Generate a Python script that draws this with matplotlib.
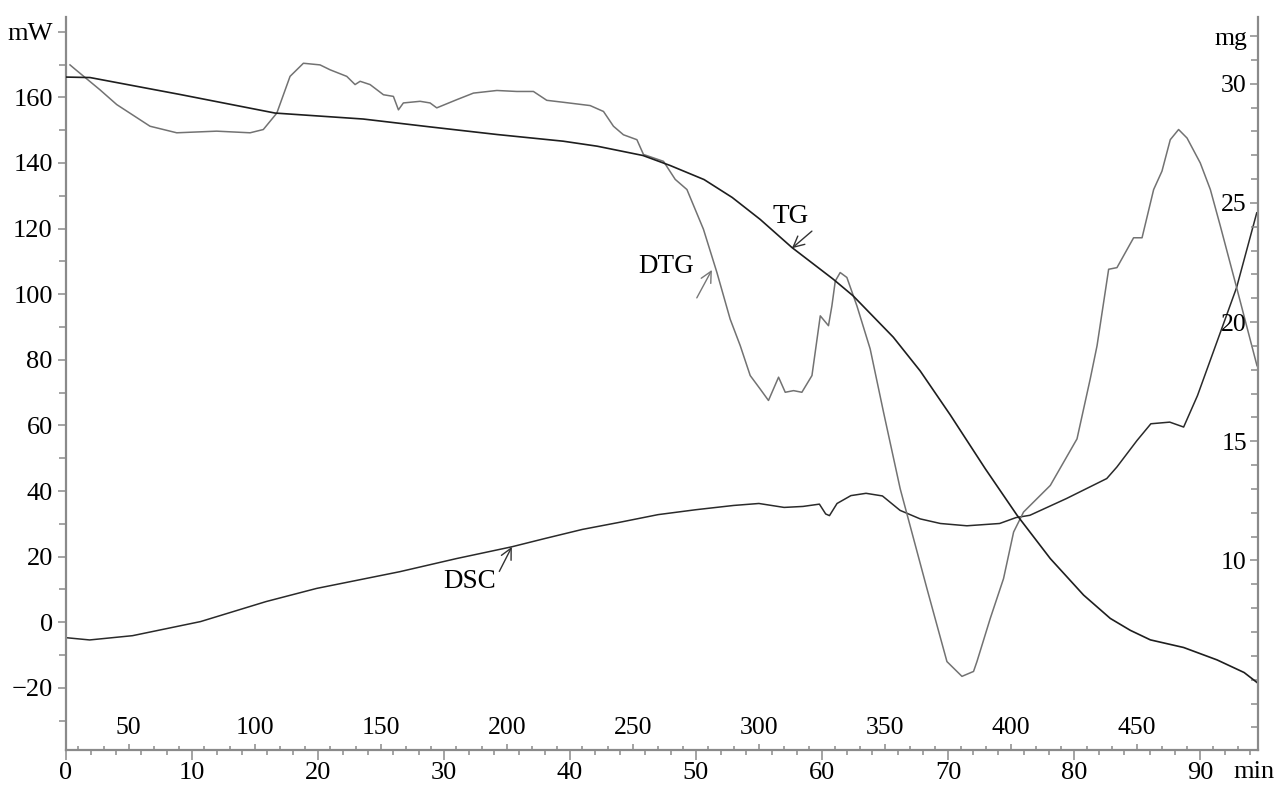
import numpy as np
import matplotlib.pyplot as plt
from matplotlib.ticker import MultipleLocator

plt.rcParams['font.family'] = ['Liberation Serif', 'DejaVu Serif']

# ---- data ----
# TG, mass (mg) against time (min)
tg_time = [0.0, 1.93, 9.07, 16.61, 23.6, 28.91, 34.23, 39.47, 42.17, 45.8, 47.96,
           50.65, 52.88, 55.1, 57.62, 60.9, 62.48, 65.66, 67.8, 70.18, 72.96,
           75.48, 78.12, 80.76, 82.88, 84.47, 86.06, 88.7, 91.35, 93.5, 94.6]
tg_mass = [30.28, 30.26, 29.55, 28.77, 28.52, 28.19, 27.87, 27.59, 27.38, 26.99, 26.57,
           25.98, 25.23, 24.31, 23.13, 21.8, 21.1, 19.37, 17.95, 16.11, 13.85,
           11.9, 10.08, 8.55, 7.57, 7.07, 6.67, 6.35, 5.83, 5.3, 4.85]

# DSC, heat flow (mW)
dsc_time = [0.0, 1.9, 5.3, 10.7, 15.9, 19.9, 26.5, 31.0, 35.4, 38.0, 41.0, 44.0,
            47.0, 50.0, 53.0, 55.0, 57.0, 58.5, 59.8, 60.3, 60.6, 61.2, 62.3,
            63.5, 64.8, 66.2, 67.8, 69.4, 71.5, 74.1, 75.4, 76.5, 79.4, 82.6,
            83.4, 85.0, 86.1, 87.6, 88.7, 89.8, 92.9, 94.5]
dsc_mw = [-4.7, -5.4, -4.1, 0.2, 6.3, 10.3, 15.4, 19.4, 23.0, 25.5, 28.3, 30.5,
          32.8, 34.3, 35.6, 36.2, 35.0, 35.3, 36.0, 33.0, 32.5, 36.2, 38.6,
          39.3, 38.5, 34.1, 31.5, 30.1, 29.4, 30.1, 31.9, 32.6, 37.7, 43.8,
          47.3, 55.4, 60.5, 61.0, 59.5, 69.1, 102.0, 124.8]

# DTG, drawn against the mW scale
dtg_time = [0.34, 0.74, 2.72, 4.05, 6.69, 8.81, 11.98, 14.63, 15.68, 16.75, 17.8,
            18.86, 20.18, 20.98, 22.3, 22.96, 23.36, 24.15, 25.21, 26.0, 26.4,
            26.79, 28.12, 28.91, 29.44, 31.03, 32.35, 34.21, 35.79, 37.11, 38.17,
            39.49, 41.61, 42.67, 43.46, 44.25, 45.32, 45.84, 47.43, 48.36, 49.29,
            50.6, 51.67, 52.72, 53.52, 54.31, 55.1, 55.76, 56.56, 57.09, 57.75,
            58.41, 59.21, 59.87, 60.52, 60.79, 61.06, 61.45, 61.98, 62.78, 63.83,
            64.89, 66.21, 68.33, 69.92, 71.11, 72.03, 72.3, 73.36, 74.41, 75.21,
            76.0, 78.12, 80.24, 81.29, 81.83, 82.75, 83.41, 84.73, 85.4, 86.32,
            86.98, 87.64, 88.3, 88.97, 90.02, 90.82, 91.61, 92.94, 94.52]
dtg_val = [169.9, 168.6, 162.3, 157.8, 151.2, 149.2, 149.7, 149.2, 150.2, 155.2, 166.4,
           170.4, 169.9, 168.4, 166.4, 163.9, 164.9, 163.9, 160.8, 160.3, 156.2,
           158.3, 158.8, 158.3, 156.8, 159.3, 161.3, 162.1, 161.8, 161.8, 159.1,
           158.5, 157.5, 155.7, 151.2, 148.6, 147.1, 142.6, 140.5, 135.0, 131.9,
           119.8, 106.6, 92.4, 84.3, 75.2, 71.1, 67.6, 74.7, 70.1, 70.6,
           70.1, 75.2, 93.4, 90.4, 96.4, 104.0, 106.6, 105.1, 96.4, 83.3,
           64.0, 40.7, 10.3, -12.0, -16.5, -15.0, -12.0, 1.2, 13.3, 27.5,
           33.6, 41.7, 55.9, 74.2, 84.3, 107.6, 108.1, 117.2, 117.2, 131.9,
           137.5, 147.1, 150.2, 147.6, 140.0, 131.9, 120.8, 101.5, 78.2]

mw_ticks = [-20, 0, 20, 40, 60, 80, 100, 120, 140, 160, 180]
mw_labels = ['\u221220', '0', '20', '40', '60', '80', '100', '120', '140', '160', 'mW']
mg_ticks = [10, 15, 20, 25, 30, 32]
mg_labels = ['10', '15', '20', '25', '30', 'mg']
time_ticks = [0, 10, 20, 30, 40, 50, 60, 70, 80, 90]
temp_ticks = [50, 100, 150, 200, 250, 300, 350, 400, 450]

# temperature program: 25 C start, 5 C/min
T0, rate = 25.0, 5.0
t_max = 94.6

spine_c = '#8a8a8a'

fig = plt.figure(figsize=(12.77, 7.91), dpi=100)
ax = fig.add_axes([0.05145, 0.05183, 0.93367, 0.92668])
ax_mg = ax.twinx()
ax_T = ax.twiny()

ax.plot(dsc_time, dsc_mw, color='#2a2a2a', lw=1.1)
ax.plot(dtg_time, dtg_val, color='#727272', lw=1.1)
ax_mg.plot(tg_time, tg_mass, color='#1e1e1e', lw=1.2)

ax.set_xlim(0, t_max)
ax.set_ylim(-38.95, 184.5)
ax_mg.set_ylim(2.05, 32.8)
ax_T.set_xlim(T0 + rate * 0, T0 + rate * t_max)

for a in (ax, ax_mg, ax_T):
    for s in a.spines.values():
        s.set_visible(False)
ax.spines['left'].set_visible(True)
ax.spines['bottom'].set_visible(True)
ax_mg.spines['right'].set_visible(True)
for s in (ax.spines['left'], ax.spines['bottom'], ax_mg.spines['right']):
    s.set_color(spine_c)
    s.set_linewidth(1.6)

# left axis
ax.set_yticks(mw_ticks)
ax.set_yticklabels(mw_labels)
ax.yaxis.set_minor_locator(MultipleLocator(10))
ax.tick_params(axis='y', which='major', length=5.8, width=1.1, color=spine_c,
               pad=3.5, labelsize=19)
ax.tick_params(axis='y', which='minor', length=5.0, width=1.1, color=spine_c)

# time axis, ticks below
ax.set_xticks(time_ticks)
ax.xaxis.set_minor_locator(MultipleLocator(2))
ax.tick_params(axis='x', which='major', length=7, width=1.1, color=spine_c,
               pad=1.5, labelsize=19)
ax.tick_params(axis='x', which='minor', length=3.6, width=1.1, color=spine_c)
ax.annotate('min', xy=(t_max - 0.3, 0), xycoords=('data', 'axes fraction'),
            xytext=(0, -16), textcoords='offset points', ha='center', va='center',
            fontsize=19)

# temperature axis, ticks above the same line
ax_T.spines['top'].set_position(('axes', 0.0))
ax_T.set_xticks(temp_ticks)
ax_T.xaxis.set_minor_locator(MultipleLocator(10))
ax_T.tick_params(axis='x', which='major', direction='out', length=4.5, width=1.1,
                 color=spine_c, pad=3.5, labelsize=18.5)
ax_T.tick_params(axis='x', which='minor', direction='out', length=3.0, width=1.1,
                 color=spine_c)

# right axis, ticks and labels inside
ax_mg.set_yticks(mg_ticks)
ax_mg.set_yticklabels(mg_labels, ha='right')
ax_mg.yaxis.set_minor_locator(MultipleLocator(1))
ax_mg.tick_params(axis='y', which='major', direction='in', length=5.8, width=1.1,
                  color=spine_c, pad=-8, labelsize=18.5)
ax_mg.tick_params(axis='y', which='minor', direction='in', length=5.0, width=1.1,
                  color=spine_c)

# curve labels
ax.annotate('TG', xy=(57.62, 114.0), xytext=(57.48, 123.8), fontsize=19.5,
            ha='center', va='center',
            arrowprops=dict(arrowstyle='->', color='#333333', lw=1.0,
                            shrinkA=0, shrinkB=0, relpos=(1.1, -0.1)))
ax.annotate('DTG', xy=(51.27, 107.4), xytext=(47.64, 108.4), fontsize=19.5,
            ha='center', va='center',
            arrowprops=dict(arrowstyle='->', color='#777777', lw=1.0,
                            shrinkA=0, shrinkB=0, relpos=(1.05, -0.75)))
ax.annotate('DSC', xy=(35.4, 23.0), xytext=(32.09, 12.3), fontsize=19.5,
            ha='center', va='center',
            arrowprops=dict(arrowstyle='->', color='#333333', lw=1.0,
                            shrinkA=0, shrinkB=0, relpos=(1.0, 0.7)))

fig.savefig('out.png', dpi=100)
